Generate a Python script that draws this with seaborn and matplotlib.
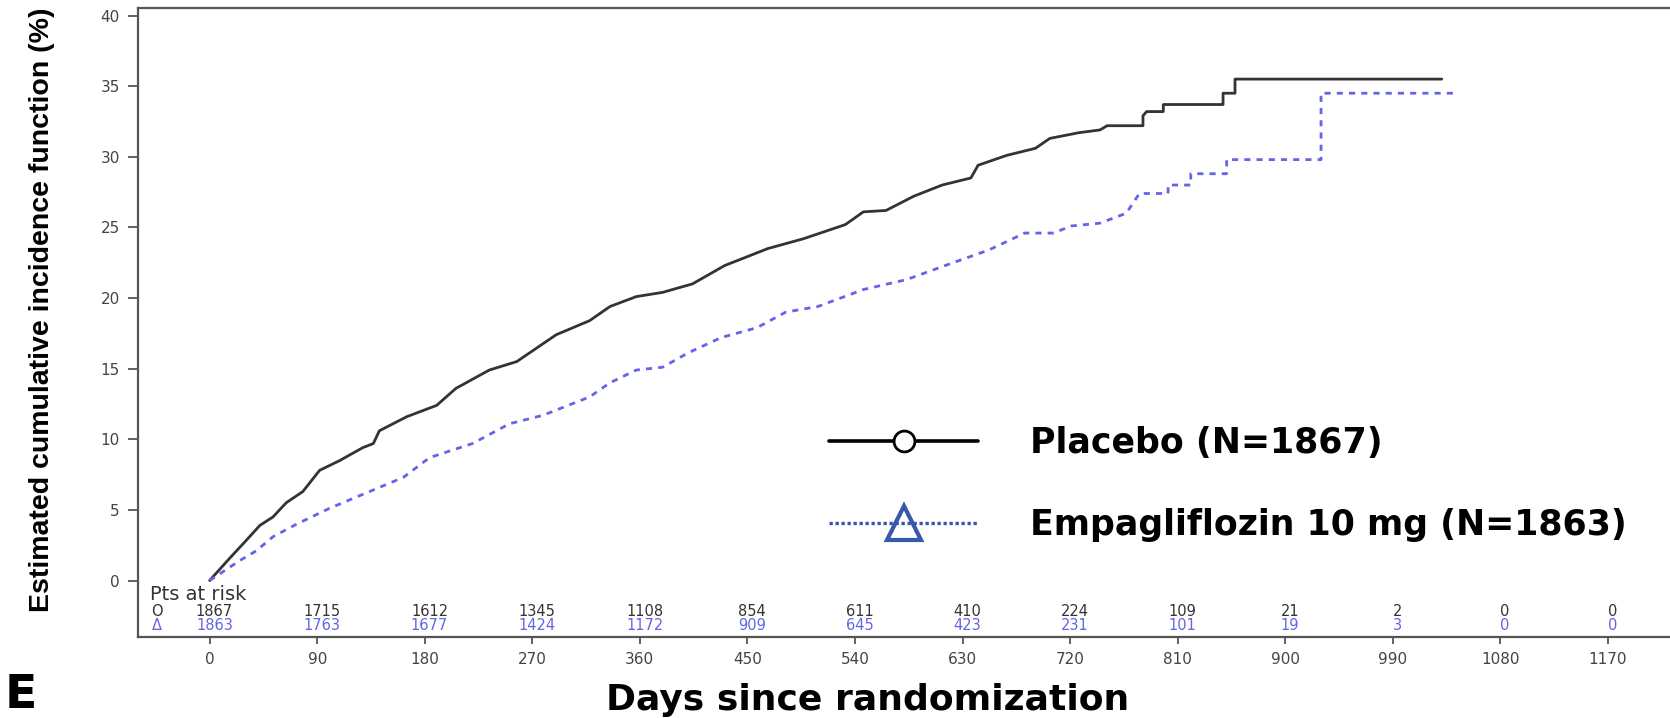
import matplotlib
matplotlib.use('Agg')
import matplotlib.pyplot as plt
from matplotlib.lines import Line2D
import seaborn as sns
import pandas as pd

# curve values (days, cumulative incidence %)
placebo_days = [0, 17, 28, 42, 53, 64, 78, 92, 109, 128, 137, 142, 165, 190, 206, 234, 257,
                290, 318, 335, 357, 379, 404, 431, 467, 497, 532, 547, 566, 589, 613, 637,
                643, 667, 691, 703, 727, 745, 751, 781, 781, 784, 798, 798, 848, 848, 858,
                858, 1031]
placebo_cif = [0, 1.6, 2.6, 3.9, 4.5, 5.5, 6.3, 7.8, 8.5, 9.4, 9.7, 10.6, 11.6, 12.4, 13.6,
               14.9, 15.5, 17.4, 18.4, 19.4, 20.1, 20.4, 21.0, 22.3, 23.5, 24.2, 25.2, 26.1,
               26.2, 27.2, 28.0, 28.5, 29.4, 30.1, 30.6, 31.3, 31.7, 31.9, 32.2, 32.2, 32.9,
               33.2, 33.2, 33.7, 33.7, 34.5, 34.5, 35.5, 35.5]

empa_days = [0, 25, 39, 53, 73, 100, 131, 162, 184, 220, 251, 279, 318, 335, 357, 379, 400,
             428, 458, 482, 509, 547, 583, 622, 652, 682, 706, 721, 745, 767, 778, 802, 802,
             821, 821, 851, 851, 930, 930, 1042]
empa_cif = [0, 1.4, 2.1, 3.1, 4.0, 5.1, 6.2, 7.3, 8.7, 9.7, 11.1, 11.7, 13.0, 14.0, 14.9, 15.1,
            16.1, 17.2, 17.9, 19.0, 19.4, 20.6, 21.3, 22.5, 23.4, 24.6, 24.6, 25.1, 25.3, 26.0,
            27.4, 27.4, 28.0, 28.0, 28.8, 28.8, 29.8, 29.8, 34.5, 34.5]

# patients at risk
risk_days = [0, 90, 180, 270, 360, 450, 540, 630, 720, 810, 900, 990, 1080, 1170]
risk_placebo = [1867, 1715, 1612, 1345, 1108, 854, 611, 410, 224, 109, 21, 2, 0, 0]
risk_empa = [1863, 1763, 1677, 1424, 1172, 909, 645, 423, 231, 101, 19, 3, 0, 0]

labels = ['Placebo (N=1867)', 'Empagliflozin 10 mg (N=1863)']

sns.set_theme(style='ticks')
plt.rcParams['font.family'] = ['DejaVu Sans']

grey = '#555555'
blue = '#6464e6'

fig = plt.figure(figsize=(16.7, 7.18), dpi=100)
ax = fig.add_axes([0.0826, 0.1128, 0.9174, 0.8754])

df_p = pd.DataFrame({'day': placebo_days, 'cif': placebo_cif})
df_e = pd.DataFrame({'day': empa_days, 'cif': empa_cif})
sns.lineplot(data=df_p, x='day', y='cif', ax=ax, estimator=None, sort=False,
             color='#333333', linewidth=2.0)
sns.lineplot(data=df_e, x='day', y='cif', ax=ax, estimator=None, sort=False,
             color=blue, linewidth=2.0, linestyle=(0, (2.2, 2.2)))

ax.set_xlim(-60, 1222)
ax.set_ylim(-4.0, 40.5)
ax.set_xticks(risk_days)
ax.set_yticks(range(0, 41, 5))
ax.tick_params(axis='both', colors=grey, labelcolor='#444444', labelsize=11,
               width=1.3, direction='out')
ax.tick_params(axis='y', length=7, pad=6)
ax.tick_params(axis='x', length=5, pad=6)
for side in ['left', 'bottom', 'top']:
    ax.spines[side].set_color(grey)
    ax.spines[side].set_linewidth(1.6)
ax.spines['right'].set_visible(False)

ax.set_xlabel('Days since randomization', fontsize=26, fontweight='bold', color='black')
ax.xaxis.set_label_coords(0.4765, -0.073)
ax.set_ylabel('Estimated cumulative incidence function (%)', fontsize=20.5,
              fontweight='bold', color='black', family=['Liberation Sans', 'DejaVu Sans'])
ax.yaxis.set_label_coords(-0.054, 0.52)

# risk table inside the axes
ax.text(-50, -1.0, 'Pts at risk', fontsize=14, color='#333333', ha='left', va='center')
ax.text(-44, -2.2, 'O', fontsize=10.5, color='#333333', ha='center', va='center')
ax.text(-44, -3.2, '\u0394', fontsize=10.5, color=blue, ha='center', va='center')
for d, p, e in zip(risk_days, risk_placebo, risk_empa):
    ax.text(d + 4, -2.2, str(p), fontsize=10.5, color='#333333', ha='center', va='center')
    ax.text(d + 4, -3.2, str(e), fontsize=10.5, color=blue, ha='center', va='center')

# legend
handles = [
    Line2D([0], [0], color='black', linewidth=2.6, marker='o', markersize=15,
           markerfacecolor='white', markeredgecolor='black', markeredgewidth=2),
    Line2D([0], [0], color='#3658a8', linewidth=2.4, linestyle=(0, (1, 0.8)), marker='^',
           markersize=25, markerfacecolor='none', markeredgecolor='#3658a8',
           markeredgewidth=3),
]
leg = ax.legend(handles, labels, loc='upper left', bbox_to_anchor=(0.451, 0.336),
                frameon=False, numpoints=1, handlelength=4.3, handletextpad=1.5,
                labelspacing=1.4, borderpad=0, borderaxespad=0,
                prop={'size': 25, 'weight': 'bold'})
for t in leg.get_texts():
    t.set_color('black')

fig.text(0.003, 0.0, 'E', fontsize=34, fontweight='bold', color='black',
         ha='left', va='bottom')

fig.savefig('out.png', dpi=100)
